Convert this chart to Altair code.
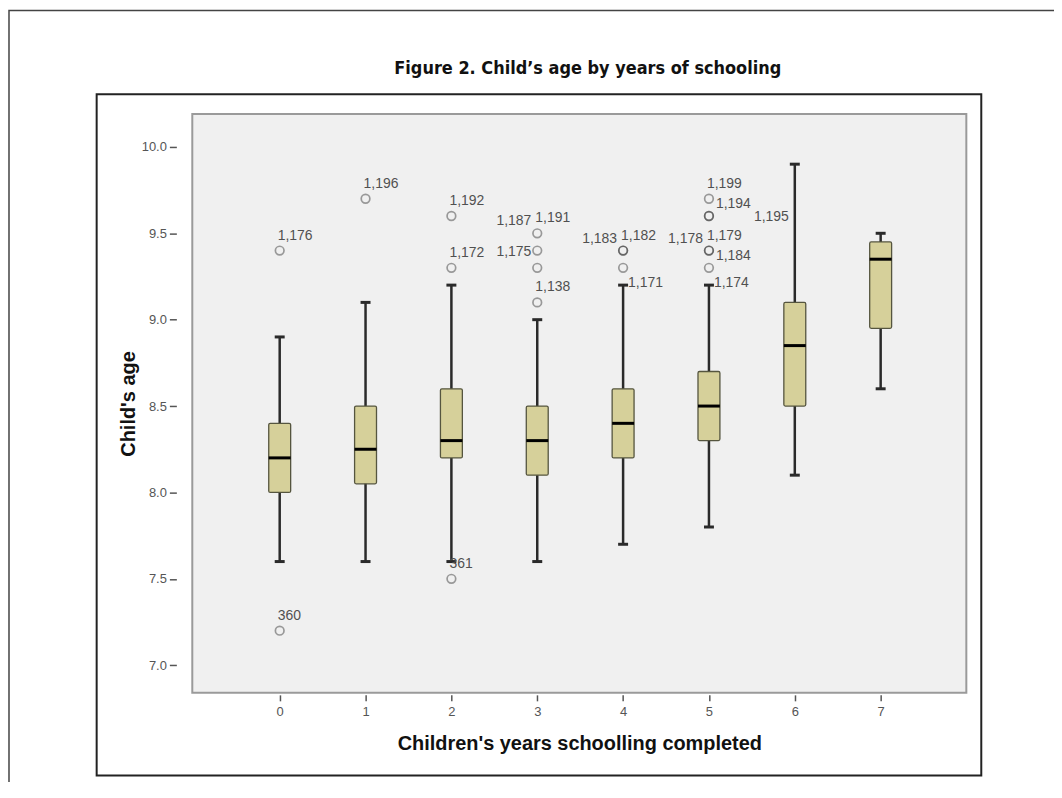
import altair as alt
import pandas as pd

# ---- data ----
groups = [0, 1, 2, 3, 4, 5, 6, 7]
lower_whisker = [7.6, 7.6, 7.6, 7.6, 7.7, 7.8, 8.1, 8.6]
q1 = [8.0, 8.05, 8.2, 8.1, 8.2, 8.3, 8.5, 8.95]
median = [8.2, 8.25, 8.3, 8.3, 8.4, 8.5, 8.85, 9.35]
q3 = [8.4, 8.5, 8.6, 8.5, 8.6, 8.7, 9.1, 9.45]
upper_whisker = [8.9, 9.1, 9.2, 9.0, 9.2, 9.2, 9.9, 9.5]

# outlier circles (duplicates drawn twice -> darker)
out_group = [0, 0, 1, 2, 2, 2, 3, 3, 3, 3, 4, 4, 4, 5, 5, 5, 5, 5, 5]
out_value = [9.4, 7.2, 9.7, 9.6, 9.3, 7.5, 9.5, 9.4, 9.3, 9.1, 9.4, 9.4, 9.3,
             9.7, 9.6, 9.6, 9.4, 9.4, 9.3]

# outlier case labels
lab_group = [0, 0, 1, 2, 2, 2, 3, 3, 3, 3, 4, 4, 4, 5, 5, 5, 5, 5, 5, 6]
lab_value = [9.4, 7.2, 9.7, 9.6, 9.3, 7.5, 9.5, 9.5, 9.4, 9.1, 9.4, 9.4, 9.3,
             9.7, 9.7, 9.4, 9.4, 9.4, 9.3, 9.6]
lab_text = ["1,176", "360", "1,196", "1,192", "1,172", "361", "1,191", "1,187",
            "1,175", "1,138", "1,183", "1,182", "1,171", "1,199", "1,194",
            "1,178", "1,179", "1,184", "1,174", "1,195"]
lab_place = ["ne", "ne", "ne", "ne", "ne", "ne", "ne", "nw", "w", "ne", "nw",
             "ne", "se", "ne", "e", "nw", "ne", "e", "se", "w"]

y_ticks = [7.0, 7.5, 8.0, 8.5, 9.0, 9.5, 10.0]

box_df = pd.DataFrame({"group": groups, "lo": lower_whisker, "q1": q1,
                       "med": median, "q3": q3, "hi": upper_whisker})
out_df = pd.DataFrame({"group": out_group, "value": out_value})
lab_df = pd.DataFrame({"group": lab_group, "value": lab_value,
                       "text": lab_text, "place": lab_place})
one = pd.DataFrame({"d": [0]})

W, H = 777, 581
xs = alt.Scale(domain=[-0.96, 7.94], nice=False, zero=False)
ys = alt.Scale(domain=[6.84, 10.19], nice=False, zero=False)
FONT = "Liberation Sans, Arial, sans-serif"

x_axis = alt.Axis(values=groups, format="d", title="Children's years schoolling completed",
                  grid=False, domain=False, offset=2, tickSize=6, tickColor="#555", tickWidth=1.5,
                  labelFont=FONT, labelFontSize=13, labelColor="#555", labelPadding=5,
                  titleFont=FONT, titleFontSize=20, titleFontWeight="bold",
                  titleColor="#111", titlePadding=15)
y_axis = alt.Axis(values=y_ticks, format=".1f", title="Child's age",
                  grid=False, domain=False, offset=16, tickSize=7, tickColor="#555", tickWidth=1.5,
                  labelFont=FONT, labelFontSize=13, labelColor="#555", labelPadding=3,
                  titleFont=FONT, titleFontSize=20, titleFontWeight="bold",
                  titleColor="#111", titlePadding=3)


def X():
    return alt.X("group:Q", scale=xs, axis=x_axis)


def Y(field):
    return alt.Y(field, scale=ys, axis=y_axis)


outer = alt.Chart(one).mark_rect(fill="transparent", stroke="#444", strokeWidth=1.5).encode(
    x=alt.value(-184), x2=alt.value(900), y=alt.value(-104), y2=alt.value(800))
inner = alt.Chart(one).mark_rect(fill="transparent", stroke="#222", strokeWidth=2).encode(
    x=alt.value(-96), x2=alt.value(792), y=alt.value(-20), y2=alt.value(664))
title = alt.Chart(one).mark_text(
    text="Figure 2. Child\u2019s age by years of schooling",
    font="Liberation Sans Narrow, DejaVu Sans Condensed, sans-serif",
    fontSize=18, fontWeight="bold", color="#111", align="center", baseline="middle"
).encode(x=alt.value(397), y=alt.value(-45))

whisk = alt.Chart(box_df).mark_rule(color="#2a2a2a", strokeWidth=2.5).encode(
    x=X(), y=Y("lo:Q"), y2="hi:Q")
cap_lo = alt.Chart(box_df).mark_tick(orient="horizontal", size=10, thickness=3,
                                     color="#2a2a2a", opacity=1).encode(x=X(), y=Y("lo:Q"))
cap_hi = alt.Chart(box_df).mark_tick(orient="horizontal", size=10, thickness=3,
                                     color="#2a2a2a", opacity=1).encode(x=X(), y=Y("hi:Q"))
box = alt.Chart(box_df).mark_bar(size=22, fill="#d6d09a", stroke="#55553f",
                                 strokeWidth=1.3, cornerRadius=1.5).encode(
    x=X(), y=Y("q1:Q"), y2="q3:Q")
med = alt.Chart(box_df).mark_tick(orient="horizontal", size=22, thickness=3,
                                  color="#000", opacity=1).encode(x=X(), y=Y("med:Q"))
circ = alt.Chart(out_df).mark_point(shape="circle", filled=False, size=75, stroke="#222",
                                    strokeWidth=1.7, strokeOpacity=0.6).encode(
    x=X(), y=Y("value:Q"))

placements = {
    "ne": dict(align="left", dx=-2, dy=-15),
    "nw": dict(align="right", dx=-6, dy=-12),
    "w": dict(align="right", dx=-6, dy=1),
    "e": dict(align="left", dx=7, dy=5),
    "se": dict(align="left", dx=5, dy=15),
}
labels = []
for key, p in placements.items():
    labels.append(
        alt.Chart(lab_df).transform_filter(alt.datum.place == key).mark_text(
            baseline="middle", font=FONT, fontSize=14, color="#505050", **p
        ).encode(x=X(), y=Y("value:Q"), text="text:N"))

chart = alt.layer(whisk, outer, inner, title, cap_lo, cap_hi, box, med, circ, *labels).properties(
    width=W, height=H,
    padding={"left": 185, "top": 105, "right": 88, "bottom": 88},
    autosize=alt.AutoSizeParams(type="none"),
).configure_view(fill="#f0f0f0", stroke="#9a9a9a", strokeWidth=2)

chart.save("out.html", embed_options={"renderer": "svg", "actions": False})
